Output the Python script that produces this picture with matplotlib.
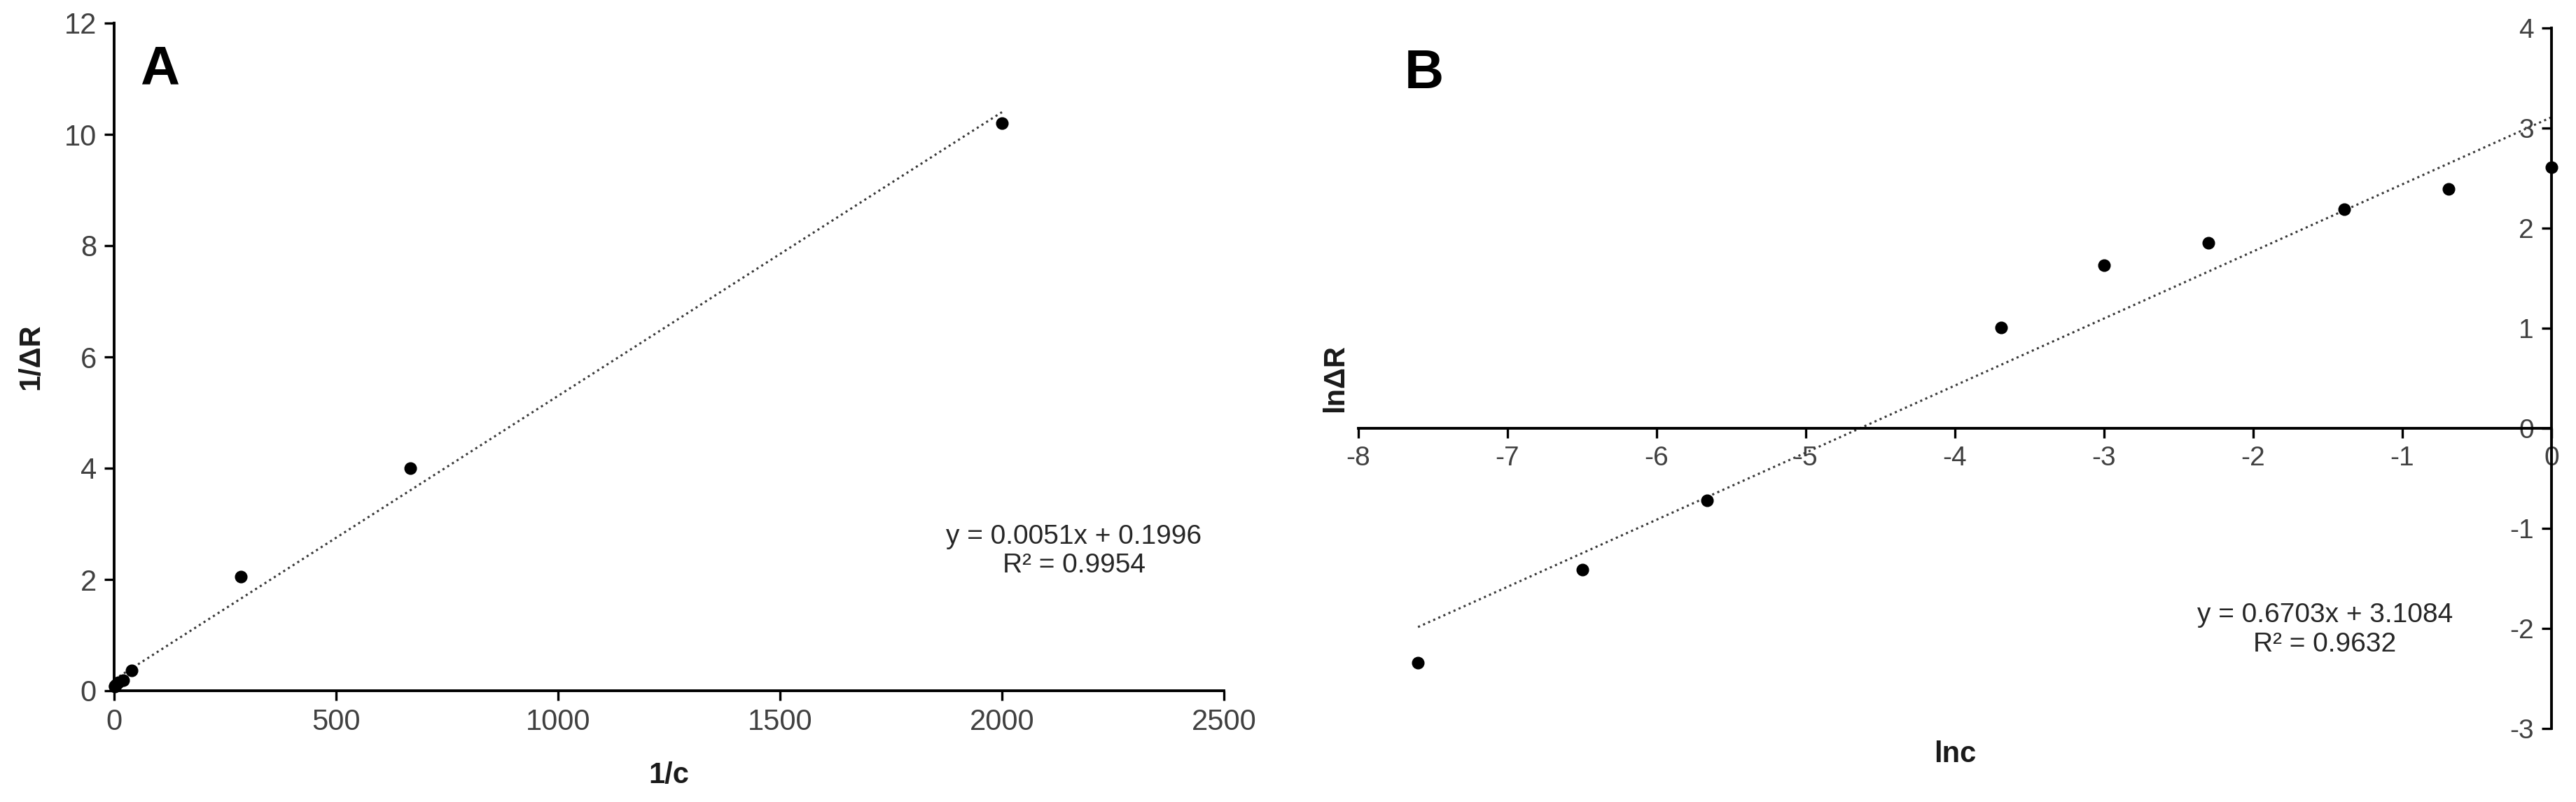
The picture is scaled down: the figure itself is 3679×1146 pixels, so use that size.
import numpy as np
import matplotlib
matplotlib.use("Agg")
import matplotlib.pyplot as plt

plt.rcParams['font.family'] = ['Liberation Sans', 'DejaVu Sans']
plt.rcParams['axes.unicode_minus'] = False

# panel A : 1/c vs 1/dR
inv_c = [2000, 667, 286, 40, 20, 10, 4, 2, 1]
inv_dR = [10.2, 4.0, 2.05, 0.36, 0.19, 0.155, 0.11, 0.09, 0.073]
fit_a = (0.0051, 0.1996)
eq_a = "y = 0.0051x + 0.1996\nR² = 0.9954"

# panel B : lnc vs lndR
ln_c = [-7.6, -6.5, -5.66, -3.69, -3.0, -2.3, -1.39, -0.69, 0.0]
ln_dR = [-2.34, -1.41, -0.72, 1.01, 1.63, 1.85, 2.19, 2.39, 2.61]
fit_b = (0.6703, 3.1084)
eq_b = "y = 0.6703x + 3.1084\nR² = 0.9632"

tick_col = '#404040'
W, H = 3679, 1146
fig = plt.figure(figsize=(W / 100, H / 100), dpi=100)

# ---- A ----
axA = fig.add_axes([163 / W, 1 - 987 / H, (1748 - 163) / W, (987 - 33) / H])
xa = np.linspace(min(inv_c), max(inv_c), 50)
axA.plot(xa, fit_a[0] * xa + fit_a[1], linestyle=(0, (1, 1.6)), color='#3a3a3a', lw=2.2)
axA.plot(inv_c, inv_dR, 'o', color='black', ms=12, clip_on=False, zorder=3)
axA.set_xlim(0, 2500)
axA.set_ylim(0, 12)
axA.set_xticks([0, 500, 1000, 1500, 2000, 2500])
axA.set_yticks([0, 2, 4, 6, 8, 10, 12])
for s in ['top', 'right']:
    axA.spines[s].set_visible(False)
for s in ['left', 'bottom']:
    axA.spines[s].set_linewidth(2.8)
axA.tick_params(length=10, width=2.4, labelsize=30, labelcolor=tick_col, pad=8)
axA.text(0.5, -0.127, "1/c", transform=axA.transAxes, ha='center', va='center',
         fontsize=30, fontweight='bold', color='#1a1a1a')
axA.text(-0.075, 0.5, "1/ΔR", transform=axA.transAxes, ha='center', va='center',
         rotation=90, fontsize=30, fontweight='bold', color='#1a1a1a')
axA.text(0.041, 0.930, "A", transform=axA.transAxes, ha='center', va='center',
         fontsize=56, fontweight='bold')
axA.text(0.865, 0.209, eq_a, transform=axA.transAxes, ha='center', va='center',
         fontsize=28, color='#262626', linespacing=1.2)

# ---- B ----
axB = fig.add_axes([1940 / W, 1 - 1041 / H, (3644 - 1940) / W, (1041 - 40) / H])
xb = np.linspace(min(ln_c), max(ln_c), 50)
axB.plot(xb, fit_b[0] * xb + fit_b[1], linestyle=(0, (1, 1.6)), color='#3a3a3a', lw=2.2)
axB.plot(ln_c, ln_dR, 'o', color='black', ms=12, clip_on=False, zorder=3)
axB.set_xlim(-8, 0)
axB.set_ylim(-3, 4)
axB.set_xticks(range(-8, 1))
axB.set_yticks(range(-3, 5))
axB.spines['left'].set_position(('data', 0))
axB.spines['bottom'].set_position(('data', 0))
for s in ['top', 'right']:
    axB.spines[s].set_visible(False)
for s in ['left', 'bottom']:
    axB.spines[s].set_linewidth(2.8)
axB.tick_params(length=10, width=2.4, labelsize=28, labelcolor=tick_col, pad=8)
axB.text(0.5, -0.037, "lnc", transform=axB.transAxes, ha='center', va='center',
         fontsize=30, fontweight='bold', color='#1a1a1a')
axB.text(-0.019, 0.5, "lnΔR", transform=axB.transAxes, ha='center', va='center',
         rotation=90, fontsize=30, fontweight='bold', color='#1a1a1a')
axB.text(0.055, 0.935, "B", transform=axB.transAxes, ha='center', va='center',
         fontsize=56, fontweight='bold')
axB.text(0.810, 0.141, eq_b, transform=axB.transAxes, ha='center', va='center',
         fontsize=28, color='#262626', linespacing=1.2)

fig.savefig("out.png", dpi=100)
